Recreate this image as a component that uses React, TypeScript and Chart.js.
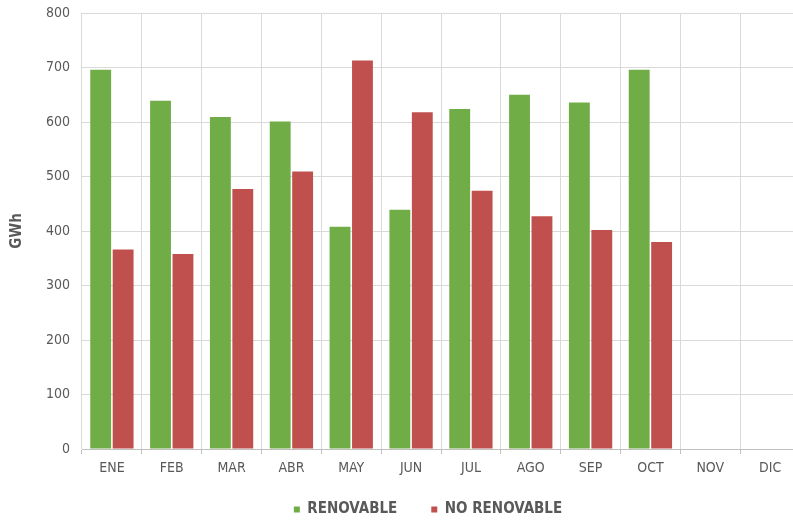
import React, { useEffect, useRef } from "react";
import { Chart, registerables } from "chart.js";

Chart.register(...registerables);

const months = ["ENE", "FEB", "MAR", "ABR", "MAY", "JUN", "JUL", "AGO", "SEP", "OCT", "NOV", "DIC"];
const renovable = [696, 639, 609, 601, 408, 439, 624, 650, 636, 696, null, null];
const noRenovable = [366, 358, 477, 509, 713, 618, 474, 427, 402, 380, null, null];
const seriesNames = ["RENOVABLE", "NO RENOVABLE"];
const yTicks = { min: 0, max: 800, step: 100 };

const FONT = "'DejaVu Sans Condensed', 'Liberation Sans', sans-serif";
const LEGEND_PAD = 34;
const LEGEND_CENTER_Y = 510;
const LEGEND_SHIFT_X = 28;

const legendPlacer = {
  id: "legendPlacer",
  afterLayout(chart: any) {
    const lg = chart.legend;
    if (!lg) return;
    const h = lg.height;
    const top = LEGEND_CENTER_Y - LEGEND_PAD - 8;
    lg.top = top;
    lg.bottom = top + h;
    lg.left += LEGEND_SHIFT_X;
    lg.right += LEGEND_SHIFT_X;
  },
};

export default function App() {
  const ref = useRef<HTMLCanvasElement | null>(null);

  useEffect(() => {
    if (!ref.current) return;
    const chart = new Chart(ref.current, {
      type: "bar",
      data: {
        labels: months,
        datasets: [
          {
            label: seriesNames[0],
            data: renovable,
            backgroundColor: "#70AD47",
            borderWidth: 0,
            categoryPercentage: 0.75,
            barPercentage: 0.93,
          },
          {
            label: seriesNames[1],
            data: noRenovable,
            backgroundColor: "#C0504D",
            borderWidth: 0,
            categoryPercentage: 0.75,
            barPercentage: 0.93,
          },
        ],
      },
      options: {
        animation: false,
        responsive: false,
        maintainAspectRatio: false,
        layout: { padding: { left: 0, right: 2, top: 13, bottom: -20 } },
        plugins: {
          tooltip: { enabled: false },
          legend: {
            position: "bottom",
            labels: {
              usePointStyle: true,
              pointStyle: "rect",
              boxHeight: 6,
              boxWidth: 6,
              pointStyleWidth: 6,
              padding: LEGEND_PAD,
              color: "#595959",
              font: { family: FONT, size: 15, weight: "bold" },
            },
          },
        },
        scales: {
          x: {
            grid: {
              color: "#d9d9d9",
              offset: true,
              tickLength: 5,
              tickColor: "#bfbfbf",
            },
            border: { display: true, color: "#bfbfbf" },
            ticks: {
              color: "#595959",
              padding: 6,
              font: { family: FONT, size: 14 },
            },
            afterFit: (scale: any) => {
              scale.height = 32;
            },
          },
          y: {
            min: yTicks.min,
            max: yTicks.max,
            ticks: {
              stepSize: yTicks.step,
              color: "#595959",
              padding: 4,
              font: { family: FONT, size: 14 },
            },
            grid: { color: "#d9d9d9", drawTicks: true, tickLength: 8, tickColor: "rgba(0,0,0,0)" },
            border: { display: false },
            title: {
              display: true,
              text: "GWh",
              color: "#595959",
              font: { family: FONT, size: 15, weight: "bold" },
              padding: { top: 8, bottom: 0 },
            },
            afterFit: (scale: any) => {
              scale.width = 82;
            },
          },
        },
      },
      plugins: [legendPlacer],
    });
    return () => chart.destroy();
  }, []);

  return (
    <div
      style={{
        position: "fixed",
        left: 0,
        top: 0,
        width: 793,
        height: 520,
        overflow: "hidden",
        background: "#fff",
      }}
    >
      <canvas ref={ref} width={802} height={520} style={{ display: "block" }} />
    </div>
  );
}
